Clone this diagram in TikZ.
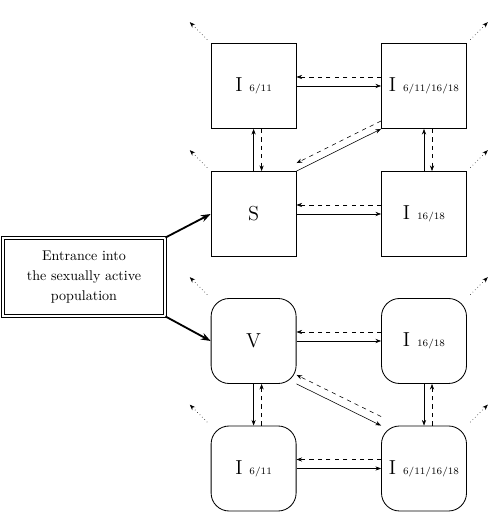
\documentclass[tikz,border=0pt]{standalone}
\usetikzlibrary{arrows.meta}

\newcommand{\Icomp}[1]{{\Large I}\hspace{5pt}{\scriptsize #1}}

\begin{document}
\begin{tikzpicture}[
  comp/.style={draw, semithick, minimum width=2.125cm, minimum height=2.125cm, inner sep=0pt},
  vcomp/.style={comp, rounded corners=0.45cm},
  flow/.style={->},
  back/.style={->, dashed},
  exit/.style={->, dotted},
  >={Stealth[length=4pt,width=3pt]}]
  \useasboundingbox (0,0) rectangle (12.325,13.175);

  % entrance
  \node[draw, double, double distance=1.2pt, semithick, minimum width=4.05cm, minimum height=1.95cm,
        align=center] (E) at (2.1,6.25)
        {Entrance into\\[2pt] the sexually active\\[2pt] population};

  % unvaccinated
  \node[comp] (I611)  at (6.34,11.025) {\Icomp{6/11}};
  \node[comp] (Iall)  at (10.6,11.025) {\Icomp{6/11/16/18}};
  \node[comp] (S)     at (6.34,7.825)  {\Large S};
  \node[comp] (I1618) at (10.6,7.825)  {\Icomp{16/18}};

  % vaccinated
  \node[vcomp] (V)      at (6.34,4.65)   {\Large V};
  \node[vcomp] (vI1618) at (10.6,4.65)   {\Icomp{16/18}};
  \node[vcomp] (vI611)  at (6.34,1.4625) {\Icomp{6/11}};
  \node[vcomp] (vIall)  at (10.6,1.4625) {\Icomp{6/11/16/18}};

  % entrance arrows
  \draw[-{Stealth[length=7pt,width=5pt]}, line width=1.3pt] (E.north east) -- (S.west);
  \draw[-{Stealth[length=7pt,width=5pt]}, line width=1.3pt] (E.south east) -- (V.west);

  % infections
  \draw[flow] (I611.east) -- (Iall.west);
  \draw[back] ([yshift=0.225cm]Iall.west) -- ([yshift=0.225cm]I611.east);
  \draw[flow] (S.east) -- (I1618.west);
  \draw[back] ([yshift=0.225cm]I1618.west) -- ([yshift=0.225cm]S.east);
  \draw[flow] (S.north) -- (I611.south);
  \draw[back] ([xshift=0.2cm]I611.south) -- ([xshift=0.2cm]S.north);
  \draw[flow] (I1618.north) -- (Iall.south);
  \draw[back] ([xshift=0.2cm]Iall.south) -- ([xshift=0.2cm]I1618.north);
  \draw[flow] (S.north east) -- (Iall.south west);
  \draw[back] ([yshift=0.2cm]Iall.south west) -- ([yshift=0.2cm]S.north east);

  \draw[flow] (V.east) -- (vI1618.west);
  \draw[back] ([yshift=0.225cm]vI1618.west) -- ([yshift=0.225cm]V.east);
  \draw[flow] (vI611.east) -- (vIall.west);
  \draw[back] ([yshift=0.225cm]vIall.west) -- ([yshift=0.225cm]vI611.east);
  \draw[flow] (V.south) -- (vI611.north);
  \draw[back] ([xshift=0.2cm]vI611.north) -- ([xshift=0.2cm]V.south);
  \draw[flow] (vI1618.south) -- (vIall.north);
  \draw[back] ([xshift=0.2cm]vIall.north) -- ([xshift=0.2cm]vI1618.south);
  \draw[flow] (V.south east) -- (vIall.north west);
  \draw[back] ([yshift=0.225cm]vIall.north west) -- ([yshift=0.225cm]V.south east);

  % exits
  \foreach \n in {I611, S, V, vI611}
    \draw[exit] ([shift={(135:0.12)}]\n.north west) -- ++(135:0.62);
  \foreach \n in {Iall, I1618, vI1618, vIall}
    \draw[exit] ([shift={(45:0.12)}]\n.north east) -- ++(45:0.62);
\end{tikzpicture}
\end{document}
